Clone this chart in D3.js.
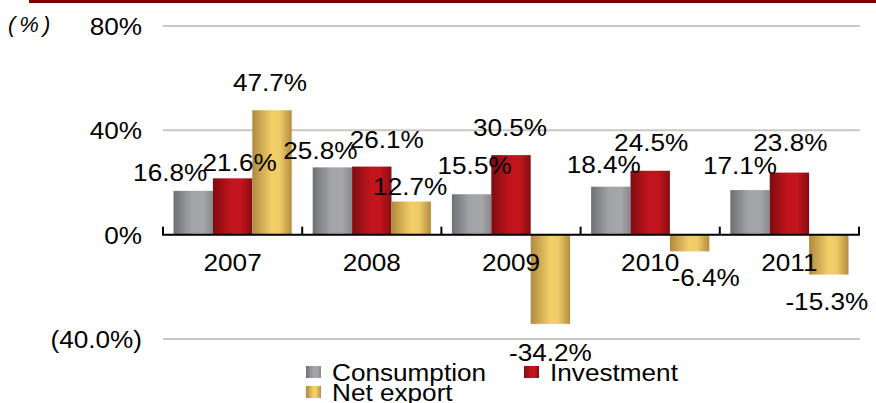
<!DOCTYPE html>
<html>
<head>
<meta charset="utf-8">
<script src="https://cdn.jsdelivr.net/npm/d3@7"></script>
<style>
  body { margin: 0; background: #fff; }
  text { font-family: "Liberation Sans", Arial, sans-serif; fill: #000; }
</style>
</head>
<body>
<div id="chart"></div>
<script>
// data
var years = ["2007", "2008", "2009", "2010", "2011"];
var seriesNames = ["Consumption", "Investment", "Net export"];
var consumption = [16.8, 25.8, 15.5, 18.4, 17.1];
var investment = [21.6, 26.1, 30.5, 24.5, 23.8];
var netExport = [47.7, 12.7, -34.2, -6.4, -15.3];
var yTicks = [-40, 0, 40, 80];
var yTickLabels = ["(40.0%)", "0%", "40%", "80%"];

// hand placed label offsets (dx, dy from bar end), like the original
var nudgeCons = [[-23, -18], [-12, -17], [3, -29], [-7, -22], [-10, -25]];
var nudgeInv = [[7, -16], [15, -27], [-1, -28], [1, -28], [1, -30]];
var nudgeNet = [[-2, -28], [-1, -15], [0, 28], [16, 26], [-2, 27]];

var width = 876, height = 403;
var sx = 1.09; // text in the source is a bit wide
var fontSize = 24;

var series = [
  {name: seriesNames[0], values: consumption, nudge: nudgeCons, grad: "gGray"},
  {name: seriesNames[1], values: investment, nudge: nudgeInv, grad: "gRed"},
  {name: seriesNames[2], values: netExport, nudge: nudgeNet, grad: "gGold"}
];

var svg = d3.select("#chart").append("svg")
  .attr("width", width)
  .attr("height", height);

// gradients
var defs = svg.append("defs");
function grad(id, stops) {
  var g = defs.append("linearGradient").attr("id", id)
    .attr("x1", "0%").attr("x2", "100%").attr("y1", "0%").attr("y2", "0%");
  stops.forEach(function (s) {
    g.append("stop").attr("offset", s[0]).attr("stop-color", s[1]);
  });
}
grad("gGray", [["0%", "#6f7073"], ["45%", "#a2a3a7"], ["75%", "#a6a7ab"], ["100%", "#88898c"]]);
grad("gRed", [["0%", "#7e0c11"], ["45%", "#c1141c"], ["70%", "#c4151d"], ["100%", "#870d12"]]);
grad("gGold", [["0%", "#b08a3d"], ["50%", "#f3cf69"], ["70%", "#eecb66"], ["100%", "#b38c40"]]);

// top rule
svg.append("rect")
  .attr("x", 29).attr("y", 0)
  .attr("width", width - 29).attr("height", 3)
  .attr("fill", "#7b0000");

var x = d3.scaleBand()
  .domain(years)
  .range([163, 859]);

var xSub = d3.scaleBand()
  .domain(seriesNames)
  .range([10.5, x.bandwidth() - 10.5]);

var y = d3.scaleLinear()
  .domain([-40, 80])
  .range([339, 26]);

// gridlines
svg.append("g").selectAll("line")
  .data(yTicks.filter(function (d) { return d != 0; }))
  .enter().append("line")
  .attr("x1", x.range()[0]).attr("x2", x.range()[1] + 1)
  .attr("y1", function (d) { return y(d); })
  .attr("y2", function (d) { return y(d); })
  .attr("stroke", "#cbc6c1")
  .attr("stroke-width", 2);

// y axis labels
var yAxis = d3.axisLeft(y)
  .tickValues(yTicks)
  .tickFormat(function (d, i) { return yTickLabels[i]; })
  .tickSize(0)
  .tickPadding(0);

var yg = svg.append("g")
  .attr("transform", "translate(142,0)")
  .call(yAxis);
yg.select(".domain").remove();
yg.selectAll("text")
  .attr("x", 0)
  .attr("dy", "0.36em")
  .attr("transform", "scale(" + sx + ",1)")
  .style("font-size", fontSize + "px")
  .style("font-family", "Liberation Sans, Arial, sans-serif")
  .attr("fill", "#000");

// bars
var groups = svg.append("g").selectAll("g")
  .data(series)
  .enter().append("g");

groups.selectAll("rect")
  .data(function (s) {
    return s.values.map(function (v, i) { return {year: years[i], value: v, name: s.name, grad: s.grad}; });
  })
  .enter().append("rect")
  .attr("x", function (d) { return x(d.year) + xSub(d.name); })
  .attr("y", function (d) { return y(Math.max(0, d.value)); })
  .attr("width", xSub.bandwidth())
  .attr("height", function (d) { return Math.abs(y(d.value) - y(0)); })
  .attr("fill", function (d) { return "url(#" + d.grad + ")"; });

// zero axis with category ticks
var zero = svg.append("g");
zero.append("line")
  .attr("x1", x.range()[0] - 1).attr("x2", x.range()[1] + 1)
  .attr("y1", y(0)).attr("y2", y(0))
  .attr("stroke", "#000").attr("stroke-width", 2);

var bounds = [x.range()[0]].concat(years.map(function (d) { return x(d) + x.bandwidth(); }));
zero.selectAll(".tk")
  .data(bounds)
  .enter().append("line")
  .attr("class", "tk")
  .attr("x1", function (d) { return d; }).attr("x2", function (d) { return d; })
  .attr("y1", y(0) - 8).attr("y2", y(0))
  .attr("stroke", "#000").attr("stroke-width", 2);

function stretchText(sel, px, py, anchor) {
  return sel.append("text")
    .attr("transform", "translate(" + px + "," + py + ") scale(" + sx + ",1)")
    .attr("text-anchor", anchor)
    .attr("dy", "0.36em")
    .style("font-size", fontSize + "px");
}

// category labels
years.forEach(function (yr) {
  stretchText(svg, x(yr) + x.bandwidth() / 2, 262, "middle").text(yr);
});

// value labels (plain hyphen minus, as in the source)
series.forEach(function (s) {
  s.values.forEach(function (v, i) {
    var cx = x(years[i]) + xSub(s.name) + xSub.bandwidth() / 2 + s.nudge[i][0];
    var cy = y(v) + s.nudge[i][1];
    stretchText(svg, cx, cy, "middle").text(v.toFixed(1) + "%");
  });
});

// (%) unit
svg.append("text")
  .attr("x", 8).attr("y", 24)
  .attr("dy", "0.36em")
  .style("font-size", "22px")
  .style("font-style", "italic")
  .style("letter-spacing", "4px")
  .attr("fill", "#222")
  .text("(%)");

// legend
var legendPos = [[306, 372], [524, 372], [306, 392]];
series.forEach(function (s, i) {
  var p = legendPos[i];
  svg.append("rect")
    .attr("x", p[0]).attr("y", p[1] - 6)
    .attr("width", 15).attr("height", 12)
    .attr("fill", "url(#" + s.grad + ")");
  stretchText(svg, p[0] + 26, p[1], "start").text(s.name);
});
</script>
</body>
</html>
